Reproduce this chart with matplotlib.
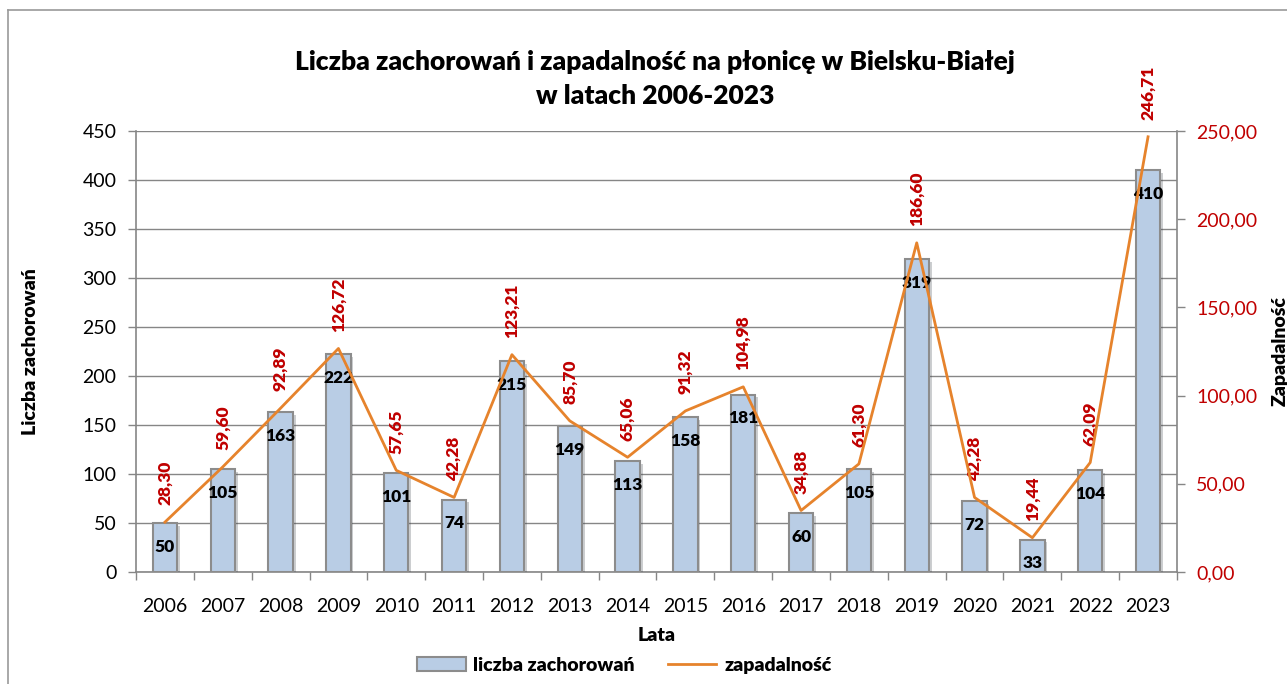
import matplotlib.pyplot as plt
import matplotlib.patheffects as pe
from matplotlib.lines import Line2D
from matplotlib.patches import Patch

plt.rcParams['font.family'] = ['Lato', 'DejaVu Sans']

years = [str(y) for y in range(2006, 2024)]
cases = [50, 105, 163, 222, 101, 74, 215, 149, 113, 158, 181, 60, 105, 319, 72, 33, 104, 410]
rates = [28.30, 59.60, 92.89, 126.72, 57.65, 42.28, 123.21, 85.70, 65.06, 91.32,
         104.98, 34.88, 61.30, 186.60, 42.28, 19.44, 62.09, 246.71]

bar_color = "#b9cde5"
edge_color = "#8c8c8c"
line_color = "#e6832c"
red = "#c00000"
grey = "#868686"
BOLD = "heavy"


def pl(v):
    return f"{v:.2f}".replace(".", ",")


fig = plt.figure(figsize=(12.87, 6.84), dpi=100)
ax = fig.add_axes([0.1057, 0.1637, 0.8088, 0.6448])
ax2 = ax.twinx()

x = list(range(len(years)))

bars = ax.bar(x, cases, width=0.42, color=bar_color, edgecolor=edge_color, linewidth=1.5,
              zorder=3,
              path_effects=[pe.SimplePatchShadow(offset=(2, -2), alpha=0.25), pe.Normal()])
for xi, c in zip(x, cases):
    ax.annotate(str(c), (xi, c), xytext=(0, -17), textcoords="offset points",
                ha="center", va="center", fontsize=12.5, fontweight=BOLD, zorder=5)

ax.set_xlim(-0.5, len(years) - 0.5)
ax.set_ylim(0, 450)
ax.set_yticks(range(0, 451, 50))
ax.yaxis.grid(True, color=grey, linewidth=1)
ax.set_axisbelow(True)
ax.set_xticks(x)
ax.set_xticklabels(years)
ax.set_xticks([i - 0.5 for i in range(len(years) + 1)], minor=True)
ax.tick_params(axis="x", which="major", length=0, labelsize=14, pad=19)
ax.tick_params(axis="x", which="minor", length=6, color=grey, width=1)
ax.tick_params(axis="y", length=6, color=grey, width=1, labelsize=14, pad=8)
for s in ["top", "right"]:
    ax.spines[s].set_visible(False)
for s in ["left", "bottom"]:
    ax.spines[s].set_color(grey)
    ax.spines[s].set_linewidth(1.2)

ax2.plot(x, rates, color=line_color, linewidth=2, zorder=4)
for xi, r in zip(x, rates):
    ax2.annotate(pl(r), (xi, r), xytext=(0, 12), textcoords="offset points",
                 ha="center", va="bottom", rotation=90, fontsize=12.5,
                 fontweight=BOLD, color=red, annotation_clip=False)
ax2.set_ylim(0, 250)
ax2.set_yticks(range(0, 251, 50))
ax2.set_yticklabels([pl(v) for v in range(0, 251, 50)])
ax2.tick_params(axis="y", length=6, color=grey, width=1, labelsize=14, labelcolor=red, pad=8)
for s in ["top", "left", "bottom"]:
    ax2.spines[s].set_visible(False)
ax2.spines["right"].set_color(grey)
ax2.spines["right"].set_linewidth(1.2)
ax.set_zorder(ax2.get_zorder() - 1)
ax.patch.set_visible(False)

ax.set_ylabel("Liczba zachorowań", fontsize=14, fontweight=BOLD, labelpad=31)
ax2.set_ylabel("Zapadalność", fontsize=14, fontweight=BOLD, rotation=90, labelpad=10)
ax.set_xlabel("Lata", fontsize=14, fontweight=BOLD, labelpad=8)

fig.text(0.509, 0.885, "Liczba zachorowań i zapadalność na płonicę w Bielsku-Białej\nw latach 2006-2023",
         ha="center", va="center", fontsize=19, fontweight=BOLD, linespacing=1.5)

handles = [Patch(facecolor=bar_color, edgecolor=edge_color, linewidth=1.5),
           Line2D([0], [0], color=line_color, linewidth=2)]
fig.legend(handles, ["liczba zachorowań", "zapadalność"], loc="center",
           bbox_to_anchor=(0.485, 0.027), ncol=2, frameon=False,
           prop={"size": 14, "weight": BOLD}, handlelength=2.5, handletextpad=0.4,
           columnspacing=1.7)

fig.add_artist(Line2D([8 / 1287, 8 / 1287], [0, 1 - 10 / 684], transform=fig.transFigure,
                      color="#9a9a9a", linewidth=1.2))
fig.add_artist(Line2D([8 / 1287, 1], [1 - 10 / 684, 1 - 10 / 684], transform=fig.transFigure,
                      color="#9a9a9a", linewidth=1.2))

fig.savefig("out.png", dpi=100)
